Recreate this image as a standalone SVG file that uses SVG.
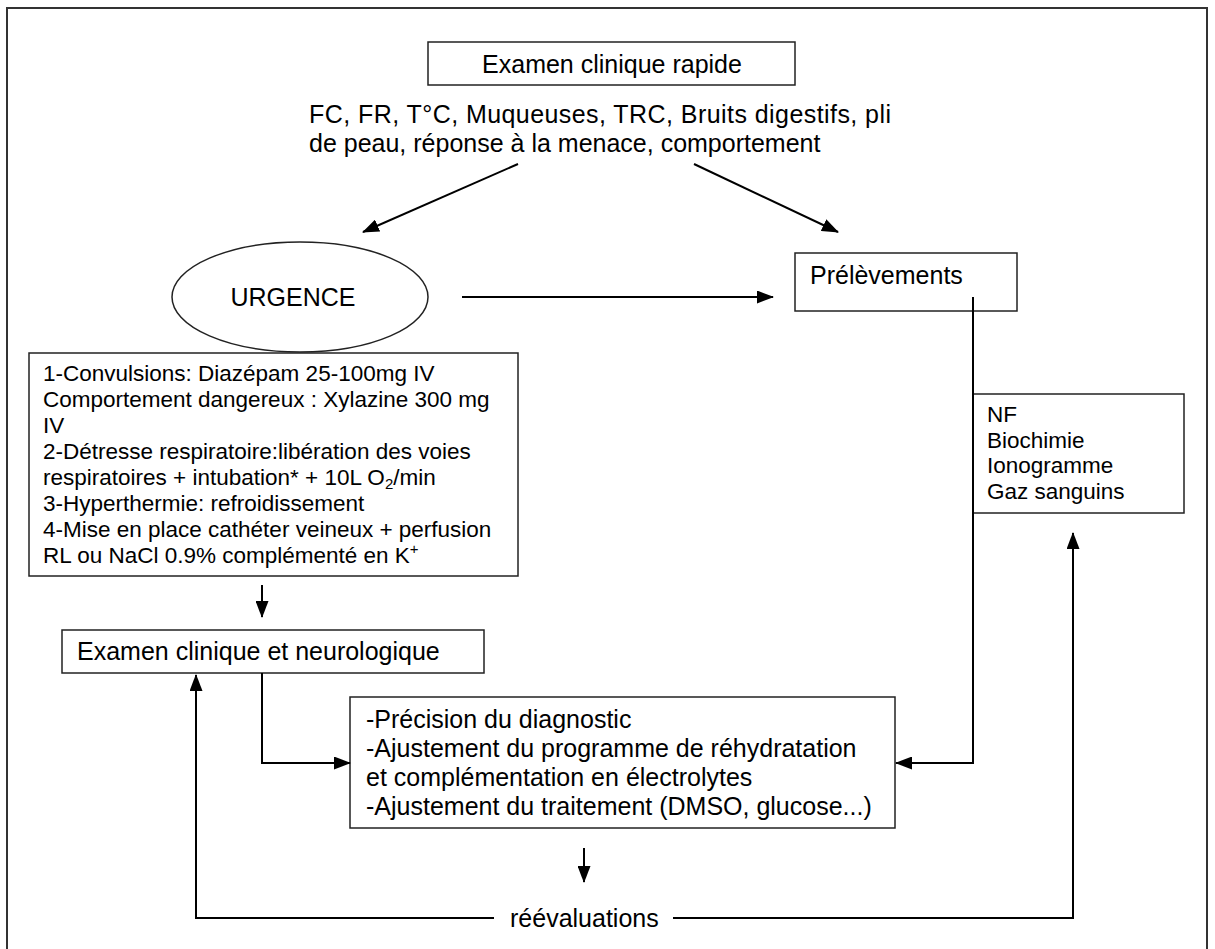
<svg xmlns="http://www.w3.org/2000/svg" width="1215" height="949" viewBox="0 0 1215 949">
  <style>
    .box { fill: #fff; stroke: #222; stroke-width: 1.5; }
    .frame { fill: none; stroke: #333; stroke-width: 2; }
    .link { fill: none; stroke: #000; stroke-width: 2; }
    .t25 { font-family: "Liberation Sans", Arial, sans-serif; font-size: 25px; fill: #000; }
    .t22 { font-family: "Liberation Sans", Arial, sans-serif; font-size: 22.5px; fill: #000; }
  </style>
  <defs>
    <marker id="arrow" viewBox="0 0 17 13" refX="16" refY="6.5" markerWidth="17" markerHeight="13" markerUnits="userSpaceOnUse" orient="auto">
      <path d="M0,0 L17,6.5 L0,13 Z" fill="#000"/>
    </marker>
  </defs>

  <rect width="1215" height="949" fill="#fff"/>

  <!-- page frame -->
  <path class="frame" d="M7,960 V8 H1207 V960"/>

  <!-- top: quick clinical exam -->
  <g id="examen-rapide">
    <rect class="box" x="428" y="42" width="367" height="43"/>
    <text class="t25" x="612" y="73" text-anchor="middle">Examen clinique rapide</text>
  </g>

  <g id="parametres">
    <text class="t25" x="309" y="123" textLength="582" lengthAdjust="spacing">FC, FR, T°C, Muqueuses, TRC, Bruits digestifs, pli</text>
    <text class="t25" x="309" y="152">de peau, réponse à la menace, comportement</text>
  </g>

  <g id="urgence">
    <ellipse class="box" cx="300" cy="297" rx="128" ry="55"/>
    <text class="t25" x="293" y="306" text-anchor="middle">URGENCE</text>
  </g>

  <g id="prelevements">
    <rect class="box" x="795" y="253" width="222" height="58"/>
    <text class="t25" x="810" y="284">Prélèvements</text>
  </g>

  <g id="analyses">
    <rect class="box" x="973" y="394" width="211" height="119"/>
    <text class="t22" x="987" y="422">NF</text>
    <text class="t22" x="987" y="447.5">Biochimie</text>
    <text class="t22" x="987" y="473">Ionogramme</text>
    <text class="t22" x="987" y="499">Gaz sanguins</text>
  </g>

  <g id="traitement-urgence">
    <rect class="box" x="29" y="353" width="489" height="223"/>
    <text class="t22" x="43" y="381">1-Convulsions: Diazépam 25-100mg IV</text>
    <text class="t22" x="43" y="407">Comportement dangereux : Xylazine 300 mg</text>
    <text class="t22" x="43" y="433">IV</text>
    <text class="t22" x="43" y="459">2-Détresse respiratoire:libération des voies</text>
    <text class="t22" x="43" y="485">respiratoires + intubation* + 10L O<tspan font-size="15" dy="4">2</tspan><tspan dy="-4">/min</tspan></text>
    <text class="t22" x="43" y="511">3-Hyperthermie: refroidissement</text>
    <text class="t22" x="43" y="537">4-Mise en place cathéter veineux + perfusion</text>
    <text class="t22" x="43" y="563">RL ou NaCl 0.9% complémenté en K<tspan font-size="15" dy="-9">+</tspan></text>
  </g>

  <g id="examen-neuro">
    <rect class="box" x="62" y="630" width="422" height="43"/>
    <text class="t25" x="77" y="660">Examen clinique et neurologique</text>
  </g>

  <g id="ajustements">
    <rect class="box" x="350" y="697" width="545" height="131"/>
    <text class="t25" x="366" y="728">-Précision du diagnostic</text>
    <text class="t25" x="366" y="757">-Ajustement du programme de réhydratation</text>
    <text class="t25" x="366" y="786">et complémentation en électrolytes</text>
    <text class="t25" x="366" y="815">-Ajustement du traitement (DMSO, glucose...)</text>
  </g>

  <g id="reevaluations">
    <text class="t25" x="510" y="927">réévaluations</text>
  </g>

  <!-- connectors -->
  <g id="connectors">
    <line class="link" x1="518" y1="164" x2="363" y2="232" marker-end="url(#arrow)"/>
    <line class="link" x1="694" y1="164" x2="838" y2="232" marker-end="url(#arrow)"/>
    <line class="link" x1="462" y1="297" x2="773" y2="297" marker-end="url(#arrow)"/>
    <polyline class="link" points="973,297 973,763 896,763" marker-end="url(#arrow)"/>
    <line class="link" x1="262" y1="585" x2="262" y2="617" marker-end="url(#arrow)"/>
    <polyline class="link" points="262,673 262,763 350,763" marker-end="url(#arrow)"/>
    <line class="link" x1="584" y1="848" x2="584" y2="882" marker-end="url(#arrow)"/>
    <polyline class="link" points="494,918 196,918 196,675" marker-end="url(#arrow)"/>
    <polyline class="link" points="673,918 1073,918 1073,533" marker-end="url(#arrow)"/>
  </g>
</svg>
